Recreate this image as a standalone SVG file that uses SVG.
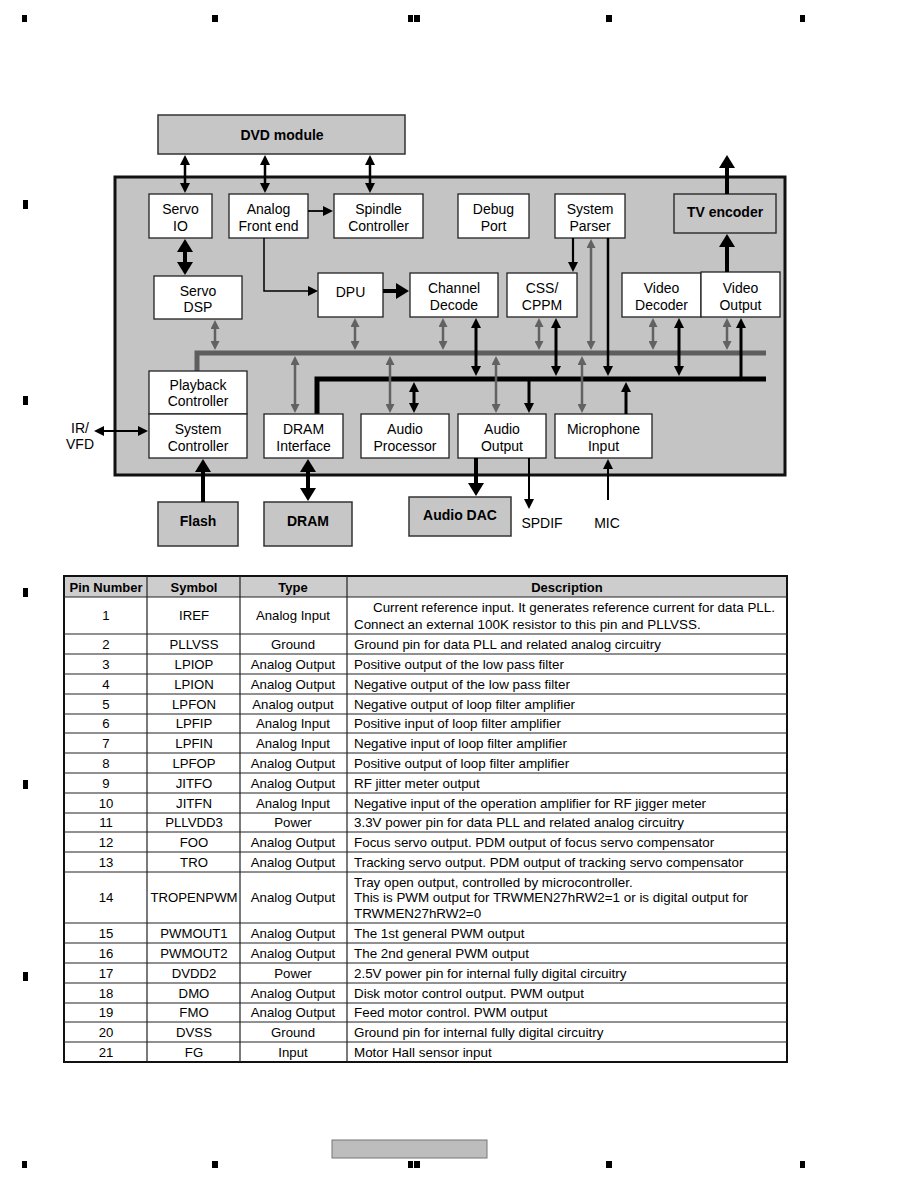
<svg xmlns="http://www.w3.org/2000/svg" width="918" height="1188" viewBox="0 0 918 1188">
<style>
text{font-family:"Liberation Sans",Arial,sans-serif;fill:#000}
.t{font-size:14px;text-anchor:middle}
.tb{font-size:14px;font-weight:bold;text-anchor:middle}
.box{fill:#fff;stroke:#222;stroke-width:1.3}
.gbox{fill:#c6c6c6;stroke:#333;stroke-width:1.5}
.k{stroke:#000;fill:none}
.g{stroke:#626262;fill:none;stroke-width:2.5}
.c{font-size:13.2px;text-anchor:middle}
.d{font-size:13.4px}
.h{font-size:13px;font-weight:bold;text-anchor:middle}
.grid{stroke:#222;stroke-width:1.2}
.mk{fill:#000}
</style>
<defs>
<marker id="b" markerUnits="userSpaceOnUse" markerWidth="10" markerHeight="10" refX="0.5" refY="5" orient="auto-start-reverse" viewBox="0 0 10 10"><path d="M0,0L10,5L0,10z" fill="#000"/></marker>
<marker id="B" markerUnits="userSpaceOnUse" markerWidth="13" markerHeight="16" refX="0.5" refY="8" orient="auto-start-reverse" viewBox="0 0 13 16"><path d="M0,0L13,8L0,16z" fill="#000"/></marker>
<marker id="g" markerUnits="userSpaceOnUse" markerWidth="9" markerHeight="9" refX="0.5" refY="4.5" orient="auto-start-reverse" viewBox="0 0 9 9"><path d="M0,0L9,4.5L0,9z" fill="#626262"/></marker>
</defs>
<rect width="918" height="1188" fill="#fff"/>

<g id="page-marks" class="mk">
<rect x="22" y="15" width="5" height="7"/><rect x="212" y="15" width="6" height="7"/><rect x="408" y="15" width="5" height="7"/><rect x="414" y="15" width="6" height="7"/><rect x="606" y="15" width="6" height="7"/><rect x="800" y="15" width="5" height="7"/>
<rect x="22" y="1161" width="5" height="7"/><rect x="212" y="1161" width="6" height="7"/><rect x="408" y="1161" width="5" height="7"/><rect x="414" y="1161" width="6" height="7"/><rect x="606" y="1161" width="6" height="7"/><rect x="800" y="1161" width="5" height="7"/>
<rect x="23" y="200" width="5" height="9"/><rect x="23" y="396" width="5" height="9"/><rect x="23" y="588" width="5" height="9"/><rect x="23" y="780" width="5" height="9"/><rect x="23" y="972" width="5" height="9"/>
</g>
<rect id="footer-box" x="332" y="1140" width="155" height="18" fill="#bdbdbd" stroke="#777" stroke-width="1"/>

<g id="chip">
<rect x="115" y="177" width="670" height="298" fill="#c4c4c4" stroke="#111" stroke-width="3"/>
</g>

<g id="buses">
<path d="M197,371V353H766" stroke="#5e5e5e" stroke-width="5" fill="none"/>
<path d="M317,414V379H766" stroke="#000" stroke-width="5" fill="none"/>
</g>

<g id="dvd-module"><rect class="gbox" x="158" y="115" width="247" height="39"/><text class="tb" x="282" y="140">DVD module</text></g>
<g id="servo-io"><rect class="box" x="149" y="194" width="63" height="44"/><text class="t" x="180.5" y="214">Servo</text><text class="t" x="180.5" y="231">IO</text></g>
<g id="analog-front-end"><rect class="box" x="229" y="194" width="79" height="44"/><text class="t" x="268.5" y="214">Analog</text><text class="t" x="268.5" y="231">Front end</text></g>
<g id="spindle-controller"><rect class="box" x="334" y="194" width="89" height="44"/><text class="t" x="378.5" y="214">Spindle</text><text class="t" x="378.5" y="231">Controller</text></g>
<g id="debug-port"><rect class="box" x="458" y="194" width="71" height="44"/><text class="t" x="493.5" y="214">Debug</text><text class="t" x="493.5" y="231">Port</text></g>
<g id="system-parser"><rect class="box" x="555" y="194" width="70" height="44"/><text class="t" x="590" y="214">System</text><text class="t" x="590" y="231">Parser</text></g>
<g id="tv-encoder"><rect class="gbox" x="674" y="194" width="102" height="39"/><text class="tb" x="725" y="217">TV encoder</text></g>
<g id="servo-dsp"><rect class="box" x="154" y="276" width="88" height="43"/><text class="t" x="198" y="296">Servo</text><text class="t" x="198" y="312">DSP</text></g>
<g id="dpu"><rect class="box" x="318" y="273" width="65" height="44"/><text class="t" x="350.5" y="297">DPU</text></g>
<g id="channel-decode"><rect class="box" x="410" y="273" width="88" height="44"/><text class="t" x="454" y="293">Channel</text><text class="t" x="454" y="310">Decode</text></g>
<g id="css-cppm"><rect class="box" x="507" y="273" width="70" height="44"/><text class="t" x="542" y="293">CSS/</text><text class="t" x="542" y="310">CPPM</text></g>
<g id="video-decoder"><rect class="box" x="622" y="273" width="79" height="44"/><text class="t" x="661.5" y="293">Video</text><text class="t" x="661.5" y="310">Decoder</text></g>
<g id="video-output"><rect class="box" x="701" y="272" width="79" height="45"/><text class="t" x="740.5" y="293">Video</text><text class="t" x="740.5" y="310">Output</text></g>
<g id="playback-controller"><rect class="box" x="149" y="371" width="98" height="43"/><text class="t" x="198" y="390">Playback</text><text class="t" x="198" y="406">Controller</text></g>
<g id="system-controller"><rect class="box" x="149" y="414" width="98" height="44"/><text class="t" x="198" y="434">System</text><text class="t" x="198" y="451">Controller</text></g>
<g id="dram-interface"><rect class="box" x="264" y="414" width="79" height="44"/><text class="t" x="303.5" y="434">DRAM</text><text class="t" x="303.5" y="451">Interface</text></g>
<g id="audio-processor"><rect class="box" x="361" y="414" width="88" height="44"/><text class="t" x="405" y="434">Audio</text><text class="t" x="405" y="451">Processor</text></g>
<g id="audio-output"><rect class="box" x="458" y="414" width="88" height="44"/><text class="t" x="502" y="434">Audio</text><text class="t" x="502" y="451">Output</text></g>
<g id="microphone-input"><rect class="box" x="555" y="414" width="97" height="44"/><text class="t" x="603.5" y="434">Microphone</text><text class="t" x="603.5" y="451">Input</text></g>
<g id="flash"><rect class="gbox" x="158" y="502" width="80" height="44"/><text class="tb" x="198" y="526">Flash</text></g>
<g id="dram"><rect class="gbox" x="264" y="502" width="88" height="44"/><text class="tb" x="308" y="526">DRAM</text></g>
<g id="audio-dac"><rect class="gbox" x="409" y="497" width="102" height="39"/><text class="tb" x="460" y="520">Audio DAC</text></g>
<g id="ir-vfd"><text class="t" x="80" y="433">IR/</text><text class="t" x="80" y="449">VFD</text></g>
<g id="spdif"><text class="t" x="542" y="528">SPDIF</text></g>
<g id="mic"><text class="t" x="607" y="528">MIC</text></g>

<g id="connectors">
<g class="k" stroke-width="2.5" marker-start="url(#b)" marker-end="url(#b)">
<line x1="185" y1="164.5" x2="185" y2="183.5"/><line x1="265" y1="164.5" x2="265" y2="183.5"/><line x1="370" y1="164.5" x2="370" y2="183.5"/>
</g>
<line class="k" stroke-width="1.8" x1="308" y1="211" x2="323.5" y2="211" marker-end="url(#b)"/>
<line class="k" stroke-width="4" x1="185" y1="251.5" x2="185" y2="262.5" marker-start="url(#B)" marker-end="url(#B)"/>
<path class="k" stroke-width="1.5" d="M264,238V291H308.5" marker-end="url(#b)"/>
<line class="k" stroke-width="4" x1="383" y1="291" x2="396.5" y2="291" marker-end="url(#B)"/>
<line class="k" stroke-width="2.2" x1="573" y1="238" x2="573" y2="262.5" marker-end="url(#b)"/>
<line class="g" x1="591" y1="247.5" x2="591" y2="341.5" marker-start="url(#g)" marker-end="url(#g)"/>
<line class="k" stroke-width="2.5" x1="608" y1="238" x2="608" y2="366.5" marker-end="url(#b)"/>
<line class="k" stroke-width="4" x1="727" y1="194" x2="727" y2="167.5" marker-end="url(#B)"/>
<line class="k" stroke-width="4" x1="727" y1="272" x2="727" y2="246.5" marker-end="url(#B)"/>
<g class="g" marker-start="url(#g)" marker-end="url(#g)">
<line x1="215" y1="328.5" x2="215" y2="341.5"/><line x1="355" y1="326.5" x2="355" y2="341.5"/><line x1="443" y1="326.5" x2="443" y2="341.5"/><line x1="539" y1="326.5" x2="539" y2="341.5"/><line x1="653" y1="326.5" x2="653" y2="341.5"/><line x1="727" y1="326.5" x2="727" y2="341.5"/>
<line x1="295" y1="364.5" x2="295" y2="404.5"/><line x1="390" y1="364.5" x2="390" y2="404.5"/><line x1="496" y1="364.5" x2="496" y2="404.5"/><line x1="582" y1="364.5" x2="582" y2="404.5"/>
</g>
<g class="k" stroke-width="3" marker-start="url(#b)" marker-end="url(#b)">
<line x1="476" y1="327.5" x2="476" y2="366.5"/><line x1="556" y1="327.5" x2="556" y2="366.5"/><line x1="679" y1="327.5" x2="679" y2="366.5"/>
<line x1="414" y1="391.5" x2="414" y2="403.5"/>
</g>
<line class="k" stroke-width="3" x1="741" y1="379" x2="741" y2="327.5" marker-end="url(#b)"/>
<line class="k" stroke-width="3" x1="529" y1="379" x2="529" y2="403.5" marker-end="url(#b)"/>
<line class="k" stroke-width="3" x1="626" y1="414" x2="626" y2="391.5" marker-end="url(#b)"/>
<line class="k" stroke-width="2" x1="103.5" y1="431" x2="138.5" y2="431" marker-start="url(#b)" marker-end="url(#b)"/>
<line class="k" stroke-width="4" x1="203" y1="502" x2="203" y2="471.5" marker-end="url(#B)"/>
<line class="k" stroke-width="4" x1="308" y1="471.5" x2="308" y2="488.5" marker-start="url(#B)" marker-end="url(#B)"/>
<line class="k" stroke-width="4" x1="476" y1="458" x2="476" y2="483.5" marker-end="url(#B)"/>
<line class="k" stroke-width="2" x1="529" y1="458" x2="529" y2="499.5" marker-end="url(#b)"/>
<line class="k" stroke-width="2" x1="608" y1="500" x2="608" y2="468.5" marker-end="url(#b)"/>
</g>

<g id="pin-table">
<rect x="64" y="576" width="723" height="21" fill="#cdcdcd"/>
<rect x="64" y="576" width="723" height="486" fill="none" stroke="#111" stroke-width="2"/>
<g class="grid">
<line x1="147" y1="576" x2="147" y2="1062"/><line x1="240" y1="576" x2="240" y2="1062"/><line x1="347" y1="576" x2="347" y2="1062"/>
<line x1="64" y1="597" x2="787" y2="597"/><line x1="64" y1="634" x2="787" y2="634"/><line x1="64" y1="654" x2="787" y2="654"/><line x1="64" y1="674" x2="787" y2="674"/><line x1="64" y1="694" x2="787" y2="694"/><line x1="64" y1="714" x2="787" y2="714"/><line x1="64" y1="733" x2="787" y2="733"/><line x1="64" y1="753" x2="787" y2="753"/><line x1="64" y1="773" x2="787" y2="773"/><line x1="64" y1="793" x2="787" y2="793"/><line x1="64" y1="813" x2="787" y2="813"/><line x1="64" y1="832" x2="787" y2="832"/><line x1="64" y1="852" x2="787" y2="852"/><line x1="64" y1="872" x2="787" y2="872"/><line x1="64" y1="923" x2="787" y2="923"/><line x1="64" y1="943" x2="787" y2="943"/><line x1="64" y1="963" x2="787" y2="963"/><line x1="64" y1="983" x2="787" y2="983"/><line x1="64" y1="1003" x2="787" y2="1003"/><line x1="64" y1="1022" x2="787" y2="1022"/><line x1="64" y1="1042" x2="787" y2="1042"/>
</g>
<text class="h" x="106" y="591.5">Pin Number</text><text class="h" x="194" y="591.5">Symbol</text><text class="h" x="293" y="591.5">Type</text><text class="h" x="567" y="591.5">Description</text>
<g>
<text class="c" x="106" y="620">1</text><text class="c" x="194" y="620">IREF</text><text class="c" x="293" y="620">Analog Input</text>
<text class="d" x="373" y="612">Current reference input. It generates reference current for data PLL.</text><text class="d" x="354" y="629">Connect an external 100K resistor to this pin and PLLVSS.</text>
<text class="c" x="106" y="648.5">2</text><text class="c" x="194" y="648.5">PLLVSS</text><text class="c" x="293" y="648.5">Ground</text><text class="d" x="354" y="648.5">Ground pin for data PLL and related analog circuitry</text>
<text class="c" x="106" y="668.5">3</text><text class="c" x="194" y="668.5">LPIOP</text><text class="c" x="293" y="668.5">Analog Output</text><text class="d" x="354" y="668.5">Positive output of the low pass filter</text>
<text class="c" x="106" y="688.5">4</text><text class="c" x="194" y="688.5">LPION</text><text class="c" x="293" y="688.5">Analog Output</text><text class="d" x="354" y="688.5">Negative output of the low pass filter</text>
<text class="c" x="106" y="708.5">5</text><text class="c" x="194" y="708.5">LPFON</text><text class="c" x="293" y="708.5">Analog output</text><text class="d" x="354" y="708.5">Negative output of loop filter amplifier</text>
<text class="c" x="106" y="728">6</text><text class="c" x="194" y="728">LPFIP</text><text class="c" x="293" y="728">Analog Input</text><text class="d" x="354" y="728">Positive input of loop filter amplifier</text>
<text class="c" x="106" y="747.5">7</text><text class="c" x="194" y="747.5">LPFIN</text><text class="c" x="293" y="747.5">Analog Input</text><text class="d" x="354" y="747.5">Negative input of loop filter amplifier</text>
<text class="c" x="106" y="767.5">8</text><text class="c" x="194" y="767.5">LPFOP</text><text class="c" x="293" y="767.5">Analog Output</text><text class="d" x="354" y="767.5">Positive output of loop filter amplifier</text>
<text class="c" x="106" y="787.5">9</text><text class="c" x="194" y="787.5">JITFO</text><text class="c" x="293" y="787.5">Analog Output</text><text class="d" x="354" y="787.5">RF jitter meter output</text>
<text class="c" x="106" y="807.5">10</text><text class="c" x="194" y="807.5">JITFN</text><text class="c" x="293" y="807.5">Analog Input</text><text class="d" x="354" y="807.5">Negative input of the operation amplifier for RF jigger meter</text>
<text class="c" x="106" y="827">11</text><text class="c" x="194" y="827">PLLVDD3</text><text class="c" x="293" y="827">Power</text><text class="d" x="354" y="827">3.3V power pin for data PLL and related analog circuitry</text>
<text class="c" x="106" y="846.5">12</text><text class="c" x="194" y="846.5">FOO</text><text class="c" x="293" y="846.5">Analog Output</text><text class="d" x="354" y="846.5">Focus servo output. PDM output of focus servo compensator</text>
<text class="c" x="106" y="866.5">13</text><text class="c" x="194" y="866.5">TRO</text><text class="c" x="293" y="866.5">Analog Output</text><text class="d" x="354" y="866.5">Tracking servo output. PDM output of tracking servo compensator</text>
<text class="c" x="106" y="902">14</text><text class="c" x="194" y="902">TROPENPWM</text><text class="c" x="293" y="902">Analog Output</text>
<text class="d" x="354" y="886.5">Tray open output, controlled by microcontroller.</text><text class="d" x="354" y="902">This is PWM output for TRWMEN27hRW2=1 or is digital output for</text><text class="d" x="354" y="918">TRWMEN27hRW2=0</text>
<text class="c" x="106" y="937.5">15</text><text class="c" x="194" y="937.5">PWMOUT1</text><text class="c" x="293" y="937.5">Analog Output</text><text class="d" x="354" y="937.5">The 1st general PWM output</text>
<text class="c" x="106" y="957.5">16</text><text class="c" x="194" y="957.5">PWMOUT2</text><text class="c" x="293" y="957.5">Analog Output</text><text class="d" x="354" y="957.5">The 2nd general PWM output</text>
<text class="c" x="106" y="977.5">17</text><text class="c" x="194" y="977.5">DVDD2</text><text class="c" x="293" y="977.5">Power</text><text class="d" x="354" y="977.5">2.5V power pin for internal fully digital circuitry</text>
<text class="c" x="106" y="997.5">18</text><text class="c" x="194" y="997.5">DMO</text><text class="c" x="293" y="997.5">Analog Output</text><text class="d" x="354" y="997.5">Disk motor control output. PWM output</text>
<text class="c" x="106" y="1017">19</text><text class="c" x="194" y="1017">FMO</text><text class="c" x="293" y="1017">Analog Output</text><text class="d" x="354" y="1017">Feed motor control. PWM output</text>
<text class="c" x="106" y="1036.5">20</text><text class="c" x="194" y="1036.5">DVSS</text><text class="c" x="293" y="1036.5">Ground</text><text class="d" x="354" y="1036.5">Ground pin for internal fully digital circuitry</text>
<text class="c" x="106" y="1056.5">21</text><text class="c" x="194" y="1056.5">FG</text><text class="c" x="293" y="1056.5">Input</text><text class="d" x="354" y="1056.5">Motor Hall sensor input</text>
</g>
</g>
</svg>
